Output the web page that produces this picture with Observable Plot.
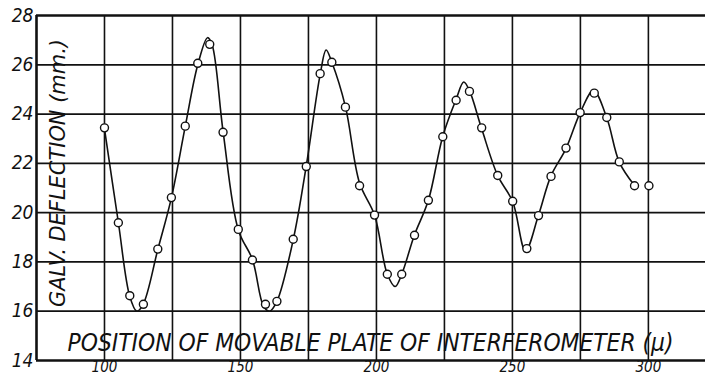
<!DOCTYPE html>
<html><head><meta charset="utf-8">
<script src="https://cdn.jsdelivr.net/npm/d3@7"></script>
<script src="https://cdn.jsdelivr.net/npm/@observablehq/plot@0.6"></script>
<style>
body{margin:0;background:#fff;}
#chart svg{display:block;}
</style></head><body><div id="chart"></div>
<script>
// Measured points (circles)
const pointX = [100, 105.1, 109.3, 114.3, 119.6, 124.6, 129.7, 134.3, 138.7, 143.6, 149.2, 154.4, 159.2, 163.4, 169.4, 174.2, 179.3, 183.6, 188.6, 193.8, 199.3, 204.0, 209.3, 214.0, 219.1, 224.4, 229.3, 234.2, 238.7, 244.6, 250.1, 255.3, 259.6, 264.2, 269.7, 274.9, 280.1, 284.7, 289.3, 294.9, 300.2];
const pointY = [23.44, 19.59, 16.63, 16.28, 18.52, 20.61, 23.51, 26.06, 26.83, 23.26, 19.32, 18.08, 16.28, 16.40, 18.92, 21.87, 25.64, 26.10, 24.28, 21.09, 19.90, 17.50, 17.50, 19.08, 20.50, 23.08, 24.56, 24.92, 23.44, 21.51, 20.46, 18.54, 19.88, 21.47, 22.62, 24.06, 24.85, 23.86, 22.06, 21.09, 21.09];
// Hand-drawn smooth curve
const curveX = [100, 105.1, 109.3, 111.9, 114.3, 119.6, 124.6, 129.7, 134.3, 137.9, 139.6, 143.6, 149.2, 154.4, 158.5, 160.7, 163.4, 169.4, 174.2, 179.3, 181.5, 183.6, 188.6, 193.8, 199.3, 204.0, 206.9, 209.3, 214.0, 219.1, 224.4, 229.3, 232.1, 234.2, 238.7, 244.6, 250.1, 254.8, 259.6, 264.2, 269.7, 274.9, 279.8, 284.7, 289.3, 294.9];
const curveY = [23.4, 19.6, 16.6, 16.0, 16.3, 18.5, 20.6, 23.5, 26.0, 27.1, 26.8, 23.3, 19.3, 18.1, 16.2, 16.0, 16.4, 18.9, 21.9, 25.6, 26.6, 26.1, 24.3, 21.2, 19.9, 17.5, 17.0, 17.5, 19.1, 20.5, 23.1, 24.6, 25.3, 24.95, 23.4, 21.5, 20.45, 18.45, 19.9, 21.5, 22.6, 24.05, 24.95, 23.85, 22.05, 21.1];
const yTicks = [14, 16, 18, 20, 22, 24, 26, 28];
const xTickLabels = [100, 150, 200, 250, 300];
const xGrid = [100, 125, 150, 175, 200, 225, 250, 275, 300];
const yGrid = [16, 18, 20, 22, 24, 26];
const xLabel = "POSITION OF MOVABLE PLATE OF INTERFEROMETER (\u03bc)";
const yLabel = "GALV. DEFLECTION (mm.)";

const points = pointX.map((x, i) => ({x, y: pointY[i]}));
const curve = curveX.map((x, i) => ({x, y: curveY[i]}));
const font = "'Liberation Sans Narrow','DejaVu Sans Condensed','Liberation Sans',sans-serif";

const chart = Plot.plot({
  width: 705, height: 378,
  marginTop: 15, marginLeft: 36, marginBottom: 18, marginRight: 0,
  x: {domain: [75, 321]},
  y: {domain: [14, 28]},
  style: {fontFamily: font, background: "#fff", color: "#111"},
  marks: [
    Plot.ruleX(xGrid, {stroke: "#111", strokeWidth: 1.6}),
    Plot.ruleY(yGrid, {stroke: "#111", strokeWidth: 1.8}),
    Plot.ruleX([75], {stroke: "#111", strokeWidth: 2.6}),
    Plot.ruleY([14, 28], {stroke: "#111", strokeWidth: 2.6}),
    Plot.axisY(yTicks, {tickSize: 0, tickPadding: 3, fontSize: 19, fontStyle: "italic", label: null}),
    Plot.axisX(xTickLabels, {tickSize: 0, tickPadding: 1, fontSize: 15, fontStyle: "italic", label: null}),
    Plot.line(curve, {x: "x", y: "y", curve: "catmull-rom", stroke: "#111", strokeWidth: 1.6}),
    Plot.dot(points, {x: "x", y: "y", r: 4, fill: "#fff", stroke: "#111", strokeWidth: 1.4}),
    Plot.text([xLabel], {frameAnchor: "bottom-left", textAnchor: "start", lineAnchor: "bottom", dx: 31, dy: -10, fontSize: 25, fontStyle: "italic", fill: "#111"}),
    Plot.text([yLabel], {frameAnchor: "left", textAnchor: "middle", rotate: -90, dx: 22, dy: -15, fontSize: 21, fontStyle: "italic", fill: "#111"})
  ]
});

d3.select(chart).selectAll("text")
  .filter(function () { return this.textContent === xLabel; })
  .attr("textLength", 606).attr("lengthAdjust", "spacingAndGlyphs");
d3.select(chart).selectAll("text")
  .filter(function () { return this.textContent === yLabel; })
  .attr("textLength", 268).attr("lengthAdjust", "spacingAndGlyphs");

document.getElementById("chart").appendChild(chart);
</script>
</body></html>
